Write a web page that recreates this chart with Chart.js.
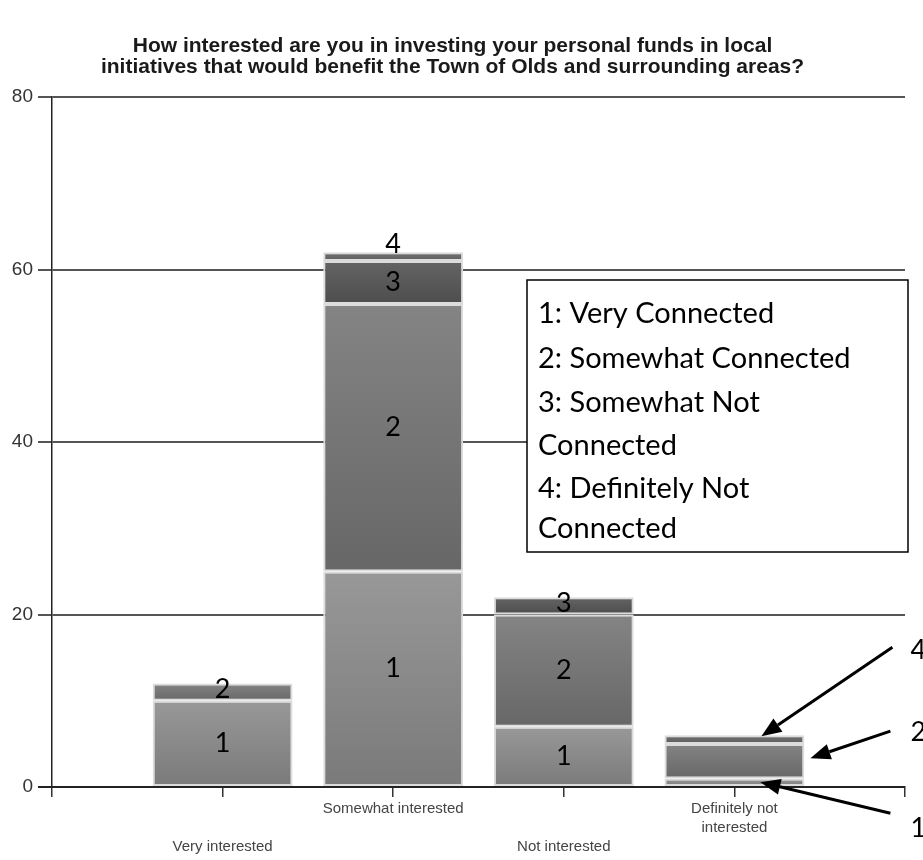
<!DOCTYPE html>
<html>
<head>
<meta charset="utf-8">
<script src="https://cdn.jsdelivr.net/npm/chart.js@4.4.1/dist/chart.umd.min.js"></script>
<style>
  html, body { margin: 0; padding: 0; background: #fff; }
  #wrap { position: relative; width: 923px; height: 860px; }
</style>
</head>
<body>
<div id="wrap"><canvas id="chart"></canvas></div>
<script>
// survey answers, stacked by how connected people feel to the town
const categories = ['Very interested', 'Somewhat interested', 'Not interested', 'Definitely not interested'];
const tickLabels = [['', '', 'Very interested'], ['Somewhat interested'], ['', '', 'Not interested'], ['Definitely not', 'interested']];
const veryConnected = [10, 25, 7, 1];
const somewhatConnected = [2, 31, 13, 4];
const somewhatNotConnected = [0, 5, 2, 0];
const definitelyNotConnected = [0, 1, 0, 1];
const seriesNames = ['1: Very Connected', '2: Somewhat Connected', '3: Somewhat Not Connected', '4: Definitely Not Connected'];
const legendLines = ['1: Very Connected', '2: Somewhat Connected', '3: Somewhat Not', 'Connected', '4: Definitely Not', 'Connected'];

const HAND = '"Lato", "Open Sans", sans-serif';
const SANS = '"Liberation Sans", Arial, sans-serif';

// empty slot on each side so the four bars sit at 1/5 .. 4/5 of the axis
const slots = ['', ...categories, ''];
const pad = arr => [null, ...arr, null];

// vertical gradient for each segment, lighter on top
function shade(top, bottom) {
    return function(c) {
        const chart = c.chart;
        if (!chart.chartArea || c.type !== 'data') return bottom;
        const ys = chart.scales.y;
        let base = 0;
        for (let i = 0; i < c.datasetIndex; i++)
        {
            base += chart.data.datasets[i].data[c.dataIndex] || 0;
        }
        const v = chart.data.datasets[c.datasetIndex].data[c.dataIndex] || 0;
        const y0 = ys.getPixelForValue(base + v);
        const y1 = ys.getPixelForValue(base);
        if (!isFinite(y0) || !isFinite(y1) || y0 === y1) return bottom;
        const g = chart.ctx.createLinearGradient(0, y0, 0, y1);
        g.addColorStop(0, top);
        g.addColorStop(1, bottom);
        return g;
    };
}

const segColors = [['#989898', '#7a7a7a'], ['#848484', '#676767'], ['#646464', '#4d4d4d'], ['#727272', '#5e5e5e']];
const segData = [veryConnected, somewhatConnected, somewhatNotConnected, definitelyNotConnected];

const datasets = segData.map((d, i) => ({
    label: seriesNames[i],
    data: pad(d),
    backgroundColor: shade(segColors[i][0], segColors[i][1]),
    borderColor: '#dcdcdc',
    borderWidth: 2,
    borderSkipped: false,
    categoryPercentage: 0.82,
    barPercentage: 1
}));

function arrow(ctx, x0, y0, x1, y1)
{
    const a = Math.atan2(y1 - y0, x1 - x0);
    const len = 20, half = 8;
    const bx = x1 - len * Math.cos(a), by = y1 - len * Math.sin(a);
    ctx.beginPath();
    ctx.moveTo(x0, y0);
    ctx.lineTo(bx, by);
    ctx.stroke();
    ctx.beginPath();
    ctx.moveTo(x1, y1);
    ctx.lineTo(bx + half * Math.sin(a), by - half * Math.cos(a));
    ctx.lineTo(bx - half * Math.sin(a), by + half * Math.cos(a));
    ctx.closePath();
    ctx.fill();
}

// numbers inside the segments, the legend box and the arrows on the last bar
const annotate = {
    id: 'annotate',
    afterDatasetsDraw(chart) {
        const ctx = chart.ctx;
        const area = chart.chartArea;
        const last = categories.length;
        ctx.save();
        ctx.font = '27px ' + HAND;
        ctx.fillStyle = '#000';
        ctx.textAlign = 'center';
        ctx.textBaseline = 'middle';
        chart.data.datasets.forEach((ds, di) => {
            chart.getDatasetMeta(di).data.forEach((bar, i) => {
                const v = ds.data[i];
                if (!v || i === last) return;
                let y = (bar.y + bar.base) / 2;
                if (v === 1) y = bar.y - 8;
                else if (v === 2) y = y - 3;
                else if (v > 20) y = y - 10;
                ctx.fillText(String(di + 1), bar.x, y);
            });
        });

        // legend box
        const bx = area.right - 378, by = area.top + 183, bw = 381, bh = 272;
        ctx.fillStyle = '#fff';
        ctx.fillRect(bx, by, bw, bh);
        ctx.strokeStyle = '#000';
        ctx.lineWidth = 1.5;
        ctx.strokeRect(bx, by, bw, bh);
        ctx.fillStyle = '#000';
        ctx.textAlign = 'left';
        ctx.font = '29px ' + HAND;
        const lineY = [34, 79, 123, 166, 209, 249];
        legendLines.forEach((t, k) => ctx.fillText(t, bx + 11, by + lineY[k]));

        // arrows pointing at the thin segments of the last bar
        const b1 = chart.getDatasetMeta(0).data[last];
        const b2 = chart.getDatasetMeta(1).data[last];
        const b4 = chart.getDatasetMeta(3).data[last];
        ctx.strokeStyle = '#000';
        ctx.lineWidth = 3;
        const m1 = (b1.y + b1.base) / 2, m2 = (b2.y + b2.base) / 2;
        arrow(ctx, b4.x + 158, b4.y - 88, b4.x + 27, b4.y + 1);
        arrow(ctx, b2.x + 156, m2 - 30, b2.x + 76, m2 - 3);
        arrow(ctx, b1.x + 156, m1 + 31, b1.x + 26, m1);
        ctx.font = '27px ' + HAND;
        ctx.fillText('4', b4.x + 176, b4.y - 85);
        ctx.fillText('2', b2.x + 176, m2 - 29);
        ctx.fillText('1', b1.x + 176, m1 + 46);
        ctx.restore();
    }
};

new Chart(document.getElementById('chart'), {
    type: 'bar',
    data: { labels: slots, datasets: datasets },
    options: {
        responsive: true,
        maintainAspectRatio: false,
        animation: false,
        layout: { padding: { left: 0, right: 18, top: 0, bottom: 0 } },
        plugins: {
            legend: { display: false },
            tooltip: { enabled: false },
            title: {
                display: true,
                text: ['How interested are you in investing your personal funds in local',
                       'initiatives that would benefit the Town of Olds and surrounding areas?'],
                color: '#1a1a1a',
                font: { family: SANS, size: 21, weight: 'bold', lineHeight: '21px' },
                padding: { top: 36, bottom: 19 }
            }
        },
        scales: {
            x: {
                stacked: true,
                offset: false,
                grid: { offset: false, drawOnChartArea: false, drawTicks: true, tickLength: 10, color: '#333', lineWidth: 1.5 },
                border: { display: true, color: '#222', width: 2 },
                ticks: {
                    autoSkip: false,
                    maxRotation: 0,
                    padding: 2,
                    color: '#444',
                    font: { family: SANS, size: 15, lineHeight: '19px' },
                    callback: (v, i) => (i >= 1 && i <= categories.length) ? tickLabels[i - 1] : ''
                },
                afterFit: s => { s.height = 73; }
            },
            y: {
                stacked: true,
                min: 0,
                max: 80,
                ticks: { stepSize: 20, padding: 5, color: '#333', font: { family: SANS, size: 19 } },
                grid: {
                    color: c => c.tick && c.tick.value === 0 ? '#222' : '#555',
                    lineWidth: 2,
                    tickLength: 14
                },
                border: { display: true, color: '#222', width: 1.5 },
                afterFit: s => { s.width = 52; }
            }
        }
    },
    plugins: [annotate]
});
</script>
</body>
</html>
